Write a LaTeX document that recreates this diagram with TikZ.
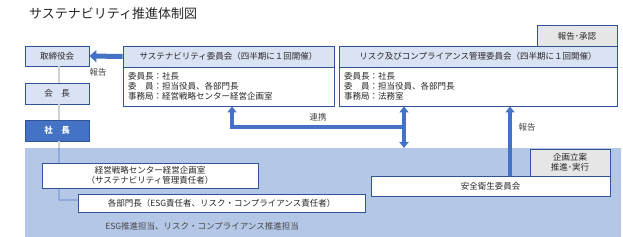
\documentclass[tikz,border=0pt]{standalone}
\usepackage{fontspec}
\setmainfont{Noto Sans CJK JP}
\usetikzlibrary{arrows.meta}
\definecolor{bdr}{HTML}{2F5597}
\definecolor{hdrfill}{HTML}{DAE3F3}
\definecolor{grayfill}{HTML}{E7E6E6}
\definecolor{arr}{HTML}{4472C4}
\definecolor{area}{HTML}{B4C7E7}
\definecolor{conn}{HTML}{D0D0D0}
\definecolor{connin}{HTML}{8FAADC}
\definecolor{txt}{HTML}{262626}
\tikzset{
  box/.style={draw=bdr, line width=0.8pt, inner sep=1pt, align=center, text=txt,
    font=\fontsize{8.5}{10}\selectfont},
  hdr/.style={box, fill=hdrfill},
  wbox/.style={box, fill=white},
  gbox/.style={box, fill=grayfill},
  bigarrow/.style={draw=arr, line width=3.6pt, -{Triangle[width=9pt,length=6pt]}},
  lbl/.style={text=txt!85, font=\fontsize{8.5}{10}\selectfont, inner sep=0pt}
}
\begin{document}
\begin{tikzpicture}[x=1pt,y=-1pt]
\useasboundingbox (0,0) rectangle (623,237);
% title
\node[anchor=west, inner sep=0pt, text=txt, font=\fontsize{13}{15}\selectfont] (title) at (29,14) {サステナビリティ推進体制図};
% left column
\node[hdr, minimum width=64pt, minimum height=20pt] (tori) at (57,56) {取締役会};
\node[hdr, minimum width=64pt, minimum height=21pt] (kai) at (57,93.5) {会　長};
\node[box, fill=arr, text=white, minimum width=64pt, minimum height=21pt, font=\fontsize{8.5}{10}\selectfont\bfseries] (sha) at (57,130.5) {社　長};
% gray connector (under area)
\coordinate (lc1) at (59,148);
\coordinate (lc2) at (59,200);
\draw[conn, line width=1.3pt] (tori.south -| lc1) -- (kai.north -| lc1);
\draw[conn, line width=1.3pt] (kai.south -| lc1) -- (sha.north -| lc1);
\draw[conn, line width=1.3pt] (sha.south -| lc1) -- (lc1);
% blue area
\fill[area] (25,148) rectangle (621,237);
% sustainability committee
\node[hdr, minimum width=211pt, minimum height=21pt] (sush) at (228.5,56.5) {サステナビリティ委員会（四半期に１回開催）};
\node[wbox, minimum width=211pt, minimum height=39pt, text width=201pt, align=left, inner sep=5pt] (susb) at (228.5,86.5)
  {委員長：社長\\委　員：担当役員、各部門長\\事務局：経営戦略センター経営企画室};
% risk committee
\node[gbox, minimum width=80pt, minimum height=22pt] (shonin) at (577,36) {報告･承認};
\node[hdr, minimum width=278pt, minimum height=21pt] (riskh) at (478,56.5) {リスク及びコンプライアンス管理委員会（四半期に１回開催）};
\node[wbox, minimum width=278pt, minimum height=39pt, text width=268pt, align=left, inner sep=5pt] (riskb) at (478,86.5)
  {委員長：社長\\委　員：担当役員、各部門長\\事務局：法務室};
% inner connector
\draw[connin, line width=1.3pt] (lc1) -- (lc2);
% lower boxes
\node[wbox, minimum width=216pt, minimum height=25pt] (keiei) at (150,175.5) {経営戦略センター経営企画室\\（サステナビリティ管理責任者）};
\node[wbox, minimum width=287pt, minimum height=18pt] (kakubu) at (221.5,203) {各部門長（ESG責任者、リスク・コンプライアンス責任者）};
\draw[connin, line width=1.3pt] (lc2) -- (lc2 -| kakubu.west);
\node[lbl] (esg) at (202,226) {ESG推進担当、リスク・コンプライアンス推進担当};
\node[gbox, minimum width=80pt, minimum height=27pt] (kikaku) at (570,162.5) {企画立案\\推進･実行};
\node[wbox, minimum width=239pt, minimum height=20pt] (anzen) at (490.5,186) {安全衛生委員会};
% arrows
\draw[draw=arr, line width=5pt, -{Triangle[width=12pt,length=7pt]}] (sush.west) -- (tori.east);
\node[lbl] (lh1) at (98,72) {報告};
\coordinate (rx) at (404,127);
\coordinate (cx) at (232,127);
\draw[draw=arr, line width=3.6pt, {Triangle[width=9pt,length=6pt]}-] (susb.south -| cx) -- (cx) -- (rx);
\draw[bigarrow, {Triangle[width=9pt,length=6pt]}-{Triangle[width=9pt,length=6pt]}] (riskb.south -| rx) -- (404,148);
\node[lbl] (lren) at (318,117) {連携};
\coordinate (ax) at (510,150);
\draw[bigarrow] (anzen.north -| ax) -- (riskb.south -| ax);
\node[lbl] (lh2) at (527,127) {報告};
\end{tikzpicture}
\end{document}
